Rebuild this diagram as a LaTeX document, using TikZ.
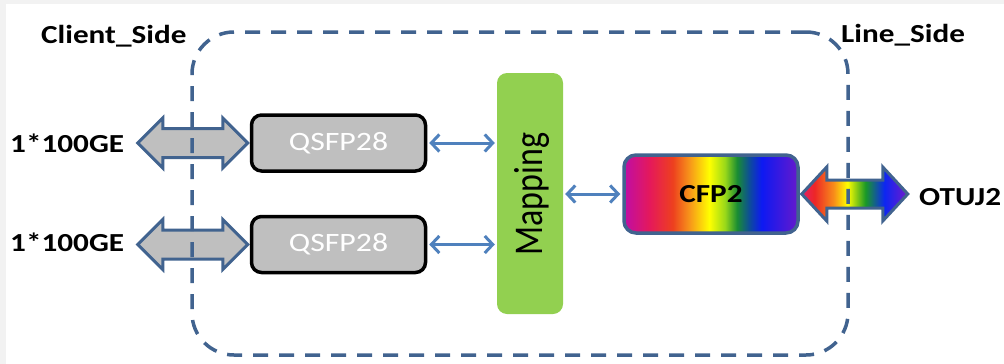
\documentclass[tikz,border=0pt]{standalone}
\usepackage{fontspec}
\setmainfont[FakeStretch=1.2]{Carlito}
\newfontfamily\mapfont{Carlito}
\usetikzlibrary{arrows.meta,calc}

\definecolor{dashblue}{HTML}{41638F}
\definecolor{arrblue}{HTML}{4F81BD}
\definecolor{boxgray}{HTML}{BFBFBF}
\definecolor{mapgreen}{HTML}{92D050}
\definecolor{edgegray}{HTML}{F2F2F2}

\pgfdeclarehorizontalshading{cfprainbow}{100bp}{
 rgb(0bp)=(0.75,0.05,0.65);
 rgb(25bp)=(0.75,0.05,0.65);
 rgb(32.5bp)=(0.90,0.10,0.35);
 rgb(39bp)=(0.93,0.25,0.12);
 rgb(44bp)=(0.97,0.60,0.10);
 rgb(49.5bp)=(1,1,0);
 rgb(54bp)=(0.6,0.85,0.1);
 rgb(57.5bp)=(0.1,0.55,0.2);
 rgb(61bp)=(0.05,0.3,0.6);
 rgb(64.5bp)=(0.05,0.1,0.95);
 rgb(75bp)=(0.4,0.1,0.8);
 rgb(100bp)=(0.4,0.1,0.8)}

\pgfdeclarehorizontalshading{arrowrainbow}{100bp}{
 rgb(0bp)=(0.9,0.12,0.4);
 rgb(25bp)=(0.9,0.12,0.4);
 rgb(31bp)=(0.93,0.15,0.15);
 rgb(40bp)=(0.97,0.55,0.1);
 rgb(46.5bp)=(1,1,0);
 rgb(55bp)=(0.1,0.6,0.15);
 rgb(64bp)=(0.05,0.15,0.95);
 rgb(75bp)=(0.45,0.1,0.8);
 rgb(100bp)=(0.45,0.1,0.8)}

% style, start tip, length, head length, head half height, shaft half height
\newcommand{\fatdbl}[6]{%
  \path[#1] (#2) -- ++(#4,-#5) -- ++(0,#5-#6) -- ++(#3-2*#4,0) -- ++(0,#6-#5)
    -- ++(#4,#5) -- ++(-#4,#5) -- ++(0,#6-#5) -- ++(-#3+2*#4,0) -- ++(0,#5-#6) -- cycle;}

\tikzset{
  lbl/.style={font=\bfseries\fontsize{26}{30}\selectfont, text=black, inner sep=0pt, anchor=base west},
  qbox/.style={draw=black, line width=3.5pt, fill=boxgray, rounded corners=10pt,
    minimum width=174pt, minimum height=56pt, inner sep=0pt,
    text=white, font=\fontsize{26.5}{30}\selectfont},
  mapbox/.style={fill=mapgreen, rounded corners=10pt, minimum width=66pt,
    minimum height=241pt, inner sep=0pt},
  cfpbox/.style={draw=dashblue, line width=3.5pt, shade, shading=cfprainbow,
    rounded corners=12pt, minimum width=174pt, minimum height=78pt, inner sep=0pt,
    font=\bfseries\fontsize{26}{30}\selectfont},
  grayfat/.style={draw=dashblue, line width=3pt, fill=boxgray, line join=miter},
  rainbowfat/.style={draw=dashblue, line width=3pt, shade, shading=arrowrainbow, line join=miter},
  sarrow/.style={draw=arrblue, line width=3pt,
    {Straight Barb[length=8pt,width=17pt]}-{Straight Barb[length=8pt,width=17pt]}},
  dashbox/.style={draw=dashblue, line width=3.5pt, dash pattern=on 15pt off 11pt,
    rounded corners=42pt, minimum width=656pt, minimum height=323pt, inner sep=0pt}
}

\begin{document}
\begin{tikzpicture}[x=1pt,y=-1pt]
\useasboundingbox (0,0) rectangle (1004,364);
\fill[white] (0,0) rectangle (1004,364);
\fill[edgegray] (0,0) rectangle (6,364);
\fill[edgegray] (0,0) rectangle (1004,4);

% nodes
\node[qbox] (q1) at (338.5,143) {QSFP28};
\node[qbox] (q2) at (338.5,244.5) {QSFP28};
\node[mapbox] (map) at (530,193.5) {};
\node[rotate=90, inner sep=0pt, text=black] (maptext) at (532,194)
  {\scalebox{1}[1.2]{\mapfont\fontsize{34}{40}\selectfont Mapping}};
\node[cfpbox] (cfp) at (711,194) {CFP2};

\node[lbl] (ge1) at (10,152) {1*100GE};
\node[lbl] (ge2) at (10,251) {1*100GE};
\node[lbl] (otu) at (919,205) {OTUJ2};
\node[lbl] (client) at (41,43) {Client\_Side};
\node[lbl] (line) at (841,42) {Line\_Side};

% fat arrows
\coordinate (fa1) at ([xshift=-112pt]q1.west);
\coordinate (fa2) at ([xshift=-112pt]q2.west);
\coordinate (fa3) at ([xshift=2pt]cfp.east);
\fatdbl{grayfat}{fa1}{110}{25}{25}{14.5}
\fatdbl{grayfat}{fa2}{110}{25}{25}{14.5}
\fatdbl{rainbowfat}{fa3}{106}{25}{27}{14}

% small arrows
\draw[sarrow] ([xshift=2pt]q1.east) -- ([xshift=-2pt]q1.east -| map.west);
\draw[sarrow] ([xshift=2pt]q2.east) -- ([xshift=-2pt]q2.east -| map.west);
\draw[sarrow] ([xshift=2pt]map.east |- cfp.west) -- ([xshift=-2pt]cfp.west);

% dashed frame
\node[dashbox] (frame) at (520,193.5) {};
\end{tikzpicture}
\end{document}
